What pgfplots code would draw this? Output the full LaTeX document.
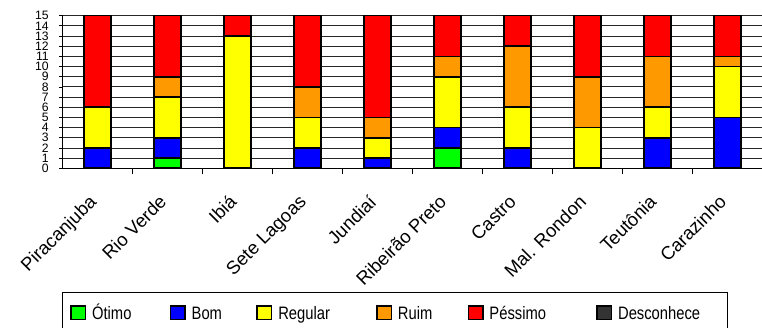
\documentclass[border=0pt]{standalone}
\usepackage{fontspec}
\setmainfont{Liberation Sans}
\newfontfamily\narrowfont[FakeStretch=0.82]{Liberation Sans}
\usepackage{pgfplots}
\pgfplotsset{compat=1.18}
\definecolor{cOtimo}{HTML}{00FF00}
\definecolor{cBom}{HTML}{0000FF}
\definecolor{cRegular}{HTML}{FFFF00}
\definecolor{cRuim}{HTML}{FF9900}
\definecolor{cPessimo}{HTML}{FF0000}
\definecolor{cDesc}{HTML}{333333}
\pgfplotsset{
  sqlegend/.style={legend image code/.code={
    \draw[##1, draw=black, line width=1.5pt] (0.75pt,-0.25pt) rectangle (15.25pt,13.25pt);
    \path (0pt,0pt) (16pt,0pt);}}
}
\begin{document}
\begin{tikzpicture}
\begin{axis}[
  at={(0pt,0pt)}, anchor=south west,
  scale only axis, width=700pt, height=152.6pt,
  ybar stacked, bar width=27pt,
  xmin=-0.5, xmax=9.5, ymin=0, ymax=15,
  axis x line*=bottom, axis y line*=left,
  axis line style={black, line width=1pt, -},
  xtick={-0.139,0.861,1.861,2.861,3.861,4.861,5.861,6.861,7.861,8.861},
  xticklabels={Piracanjuba, Rio Verde, Ibiá, Sete Lagoas, Jundiaí, Ribeirão Preto, Castro, Mal. Rondon, Teutônia, Carazinho},
  xticklabel shift=21.7pt,
  x tick label style={font=\fontsize{18.5}{19}\selectfont, inner sep=0pt, rotate=45, anchor=north east},
  x tick style={draw=none},
  extra x ticks={0.5,1.5,...,8.5},
  extra x tick labels={},
  extra x tick style={x tick style={draw=black, line width=0.8pt}, major tick length=6pt, tick align=outside, grid=none},
  ytick={0,1,...,15},
  y tick label style={font=\fontsize{12.2}{13}\selectfont, inner sep=0pt, xshift=-10.3pt, anchor=east},
  /pgf/number format/assume math mode=true,
  y tick style={draw=black, line width=0.8pt},
  tick align=outside, major tick length=3.5pt,
  ymajorgrids, major grid style={black!85, line width=0.9pt},
  every axis plot/.append style={draw=black, line width=1.6pt},
  legend columns=6,
  legend style={at={(-0.001,-0.8106)}, anchor=north west,
    draw=black, line width=1pt, fill=white,
    font=\narrowfont\fontsize{18}{20}\selectfont,
    nodes={inner sep=0pt, anchor=base west},
    /tikz/column sep=0pt,
    inner xsep=7pt, inner ysep=11pt},
]
\addplot[fill=cOtimo, sqlegend] coordinates {(0,0) (1,1) (2,0) (3,0) (4,0) (5,2) (6,0) (7,0) (8,0) (9,0)};
\addlegendentry{\hspace*{5pt}\makebox[77pt][l]{Ótimo}}
\addplot[fill=cBom, sqlegend] coordinates {(0,2) (1,2) (2,0) (3,2) (4,1) (5,2) (6,2) (7,0) (8,3) (9,5)};
\addlegendentry{\hspace*{5pt}\makebox[64pt][l]{Bom}}
\addplot[fill=cRegular, sqlegend] coordinates {(0,4) (1,4) (2,13) (3,3) (4,2) (5,5) (6,4) (7,4) (8,3) (9,5)};
\addlegendentry{\hspace*{5pt}\makebox[97pt][l]{Regular}}
\addplot[fill=cRuim, sqlegend] coordinates {(0,0) (1,2) (2,0) (3,3) (4,2) (5,2) (6,6) (7,5) (8,5) (9,1)};
\addlegendentry{\hspace*{5pt}\makebox[69pt][l]{Ruim}}
\addplot[fill=cPessimo, sqlegend] coordinates {(0,9) (1,6) (2,2) (3,7) (4,10) (5,4) (6,3) (7,6) (8,4) (9,4)};
\addlegendentry{\hspace*{5pt}\makebox[106pt][l]{Péssimo}}
\addlegendimage{fill=cDesc, draw=black, sqlegend}
\addlegendentry{\hspace*{5pt}\makebox[102pt][l]{Desconhece}}
\end{axis}
\pgfresetboundingbox
\useasboundingbox (-62.7pt,-159.7pt) rectangle (699.3pt,168.3pt);
\end{tikzpicture}
\end{document}
